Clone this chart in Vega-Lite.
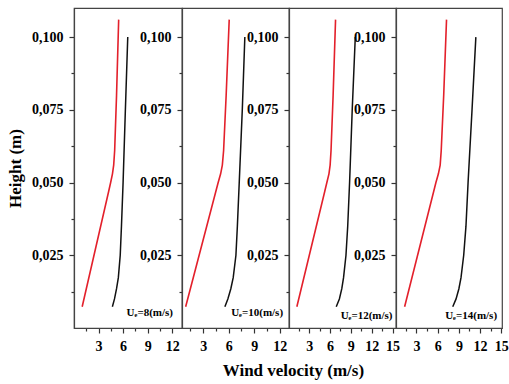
{
  "$schema": "https://vega.github.io/schema/vega-lite/v6.json",
  "padding": {"left": 5, "top": 7, "right": 0, "bottom": 2},
  "background": "white",
  "spacing": 0,
  "bounds": "flush",
  "title": {"text": "Wind velocity (m/s)", "orient": "bottom", "anchor": "middle", "frame": "bounds", "dx": 36, "font": "Liberation Serif", "fontSize": 17, "fontWeight": "bold", "color": "#000", "offset": 9},
  "datasets": {
    "lines": [
      {"p": 1, "s": "r", "v": 1.0, "h": 0.0073}, {"p": 1, "s": "r", "v": 4.24, "h": 0.047}, {"p": 1, "s": "r", "v": 4.48, "h": 0.050}, {"p": 1, "s": "r", "v": 4.7, "h": 0.053}, {"p": 1, "s": "r", "v": 4.85, "h": 0.056}, {"p": 1, "s": "r", "v": 4.97, "h": 0.061}, {"p": 1, "s": "r", "v": 5.2, "h": 0.080}, {"p": 1, "s": "r", "v": 5.46, "h": 0.106},
      {"p": 2, "s": "r", "v": 0.93, "h": 0.0073}, {"p": 2, "s": "r", "v": 4.49, "h": 0.047}, {"p": 2, "s": "r", "v": 4.76, "h": 0.050}, {"p": 2, "s": "r", "v": 5.05, "h": 0.053}, {"p": 2, "s": "r", "v": 5.25, "h": 0.056}, {"p": 2, "s": "r", "v": 5.4, "h": 0.061}, {"p": 2, "s": "r", "v": 5.7, "h": 0.080}, {"p": 2, "s": "r", "v": 6.06, "h": 0.106},
      {"p": 3, "s": "r", "v": 1.23, "h": 0.0073}, {"p": 3, "s": "r", "v": 5.25, "h": 0.047}, {"p": 3, "s": "r", "v": 5.55, "h": 0.050}, {"p": 3, "s": "r", "v": 5.85, "h": 0.053}, {"p": 3, "s": "r", "v": 6.02, "h": 0.056}, {"p": 3, "s": "r", "v": 6.15, "h": 0.061}, {"p": 3, "s": "r", "v": 6.45, "h": 0.080}, {"p": 3, "s": "r", "v": 6.8, "h": 0.106},
      {"p": 4, "s": "r", "v": 1.32, "h": 0.0073}, {"p": 4, "s": "r", "v": 5.44, "h": 0.047}, {"p": 4, "s": "r", "v": 5.75, "h": 0.050}, {"p": 4, "s": "r", "v": 6.1, "h": 0.053}, {"p": 4, "s": "r", "v": 6.35, "h": 0.056}, {"p": 4, "s": "r", "v": 6.5, "h": 0.061}, {"p": 4, "s": "r", "v": 6.85, "h": 0.080}, {"p": 4, "s": "r", "v": 7.25, "h": 0.106},
      {"p": 1, "s": "k", "v": 4.69, "h": 0.0073}, {"p": 1, "s": "k", "v": 4.95, "h": 0.010}, {"p": 1, "s": "k", "v": 5.2, "h": 0.0135}, {"p": 1, "s": "k", "v": 5.42, "h": 0.0173}, {"p": 1, "s": "k", "v": 5.65, "h": 0.025}, {"p": 1, "s": "k", "v": 5.8, "h": 0.035}, {"p": 1, "s": "k", "v": 6.0, "h": 0.050}, {"p": 1, "s": "k", "v": 6.28, "h": 0.075}, {"p": 1, "s": "k", "v": 6.57, "h": 0.100},
      {"p": 2, "s": "k", "v": 5.55, "h": 0.0073}, {"p": 2, "s": "k", "v": 5.9, "h": 0.010}, {"p": 2, "s": "k", "v": 6.25, "h": 0.0135}, {"p": 2, "s": "k", "v": 6.53, "h": 0.0173}, {"p": 2, "s": "k", "v": 6.85, "h": 0.025}, {"p": 2, "s": "k", "v": 7.02, "h": 0.035}, {"p": 2, "s": "k", "v": 7.24, "h": 0.050}, {"p": 2, "s": "k", "v": 7.6, "h": 0.075}, {"p": 2, "s": "k", "v": 7.9, "h": 0.100},
      {"p": 3, "s": "k", "v": 6.9, "h": 0.0073}, {"p": 3, "s": "k", "v": 7.35, "h": 0.010}, {"p": 3, "s": "k", "v": 7.7, "h": 0.0135}, {"p": 3, "s": "k", "v": 7.95, "h": 0.0173}, {"p": 3, "s": "k", "v": 8.3, "h": 0.025}, {"p": 3, "s": "k", "v": 8.55, "h": 0.035}, {"p": 3, "s": "k", "v": 8.82, "h": 0.050}, {"p": 3, "s": "k", "v": 9.2, "h": 0.075}, {"p": 3, "s": "k", "v": 9.64, "h": 0.100},
      {"p": 4, "s": "k", "v": 8.13, "h": 0.0073}, {"p": 4, "s": "k", "v": 8.6, "h": 0.010}, {"p": 4, "s": "k", "v": 9.0, "h": 0.0135}, {"p": 4, "s": "k", "v": 9.3, "h": 0.0173}, {"p": 4, "s": "k", "v": 9.68, "h": 0.025}, {"p": 4, "s": "k", "v": 10.0, "h": 0.035}, {"p": 4, "s": "k", "v": 10.3, "h": 0.050}, {"p": 4, "s": "k", "v": 10.86, "h": 0.075}, {"p": 4, "s": "k", "v": 11.4, "h": 0.100}
    ],
    "labels": [
      {"p": 1, "t": "Uₑ=8(m/s)", "v": 12.1, "h": 0.0052},
      {"p": 2, "t": "Uₑ=10(m/s)", "v": 12.4, "h": 0.0052},
      {"p": 3, "t": "Uₑ=12(m/s)", "v": 15.0, "h": 0.0042},
      {"p": 4, "t": "Uₑ=14(m/s)", "v": 14.4, "h": 0.0042}
    ]
  },
  "hconcat": [
    {
      "width": 108, "height": 320,
      "encoding": {
        "x": {"field": "v", "type": "quantitative", "scale": {"domain": [0, 13.2], "nice": false, "zero": false}, "axis": {"title": null, "values": [1.5, 3, 4.5, 6, 7.5, 9, 10.5, 12], "labelOverlap": false, "labelFlush": false, "ticks": true, "labelExpr": "datum.value % 3 == 0 ? format(datum.value, 'd') : ''", "tickSize": {"condition": {"test": "datum.value % 3 == 0", "value": 5}, "value": 3}}},
        "y": {"field": "h", "type": "quantitative", "scale": {"domain": [0, 0.11], "nice": false}, "axis": {"title": "Height (m)", "values": [0.0125, 0.025, 0.0375, 0.05, 0.0625, 0.075, 0.0875, 0.1], "labelOverlap": false, "labelExpr": "abs(datum.value*40 - round(datum.value*40)) < 0.001 ? replace(format(datum.value, '.3f'), '.', ',') : ''", "tickSize": {"condition": {"test": "abs(datum.value*40 - round(datum.value*40)) < 0.001", "value": 5}, "value": 3}}}
      },
      "layer": [
        {"data": {"name": "lines"}, "transform": [{"filter": "datum.p == 1 && datum.s == 'r'"}], "mark": {"type": "line", "color": "#e3202b", "strokeWidth": 1.6}, "encoding": {"order": {"field": "h", "type": "quantitative"}}},
        {"data": {"name": "lines"}, "transform": [{"filter": "datum.p == 1 && datum.s == 'k'"}], "mark": {"type": "line", "color": "#111", "strokeWidth": 1.5}, "encoding": {"order": {"field": "h", "type": "quantitative"}}},
        {"data": {"name": "labels"}, "transform": [{"filter": "datum.p == 1"}], "mark": {"type": "text", "align": "right", "baseline": "middle", "font": "Liberation Serif", "fontWeight": "bold", "fontSize": 11, "color": "#000"}, "encoding": {"text": {"field": "t"}}}
      ]
    },
    {
      "width": 107, "height": 320,
      "encoding": {
        "x": {"field": "v", "type": "quantitative", "scale": {"domain": [0.5, 13.1], "nice": false, "zero": false}, "axis": {"title": null, "values": [1.5, 3, 4.5, 6, 7.5, 9, 10.5, 12], "labelOverlap": false, "labelFlush": false, "ticks": true, "labelExpr": "datum.value % 3 == 0 ? format(datum.value, 'd') : ''", "tickSize": {"condition": {"test": "datum.value % 3 == 0", "value": 5}, "value": 3}}},
        "y": {"field": "h", "type": "quantitative", "scale": {"domain": [0, 0.11], "nice": false}, "axis": {"title": null, "values": [0.0125, 0.025, 0.0375, 0.05, 0.0625, 0.075, 0.0875, 0.1], "labelOverlap": false, "labelExpr": "abs(datum.value*40 - round(datum.value*40)) < 0.001 ? replace(format(datum.value, '.3f'), '.', ',') : ''", "tickSize": {"condition": {"test": "abs(datum.value*40 - round(datum.value*40)) < 0.001", "value": 5}, "value": 3}}}
      },
      "layer": [
        {"data": {"name": "lines"}, "transform": [{"filter": "datum.p == 2 && datum.s == 'r'"}], "mark": {"type": "line", "color": "#e3202b", "strokeWidth": 1.6}, "encoding": {"order": {"field": "h", "type": "quantitative"}}},
        {"data": {"name": "lines"}, "transform": [{"filter": "datum.p == 2 && datum.s == 'k'"}], "mark": {"type": "line", "color": "#111", "strokeWidth": 1.5}, "encoding": {"order": {"field": "h", "type": "quantitative"}}},
        {"data": {"name": "labels"}, "transform": [{"filter": "datum.p == 2"}], "mark": {"type": "text", "align": "right", "baseline": "middle", "font": "Liberation Serif", "fontWeight": "bold", "fontSize": 11, "color": "#000"}, "encoding": {"text": {"field": "t"}}}
      ]
    },
    {
      "width": 107, "height": 320,
      "encoding": {
        "x": {"field": "v", "type": "quantitative", "scale": {"domain": [0.1, 15.5], "nice": false, "zero": false}, "axis": {"title": null, "values": [1.5, 3, 4.5, 6, 7.5, 9, 10.5, 12, 13.5, 15], "labelOverlap": false, "labelFlush": false, "ticks": true, "labelExpr": "datum.value % 3 == 0 ? format(datum.value, 'd') : ''", "tickSize": {"condition": {"test": "datum.value % 3 == 0", "value": 5}, "value": 3}}},
        "y": {"field": "h", "type": "quantitative", "scale": {"domain": [0, 0.11], "nice": false}, "axis": {"title": null, "values": [0.0125, 0.025, 0.0375, 0.05, 0.0625, 0.075, 0.0875, 0.1], "labelOverlap": false, "labelExpr": "abs(datum.value*40 - round(datum.value*40)) < 0.001 ? replace(format(datum.value, '.3f'), '.', ',') : ''", "tickSize": {"condition": {"test": "abs(datum.value*40 - round(datum.value*40)) < 0.001", "value": 5}, "value": 3}}}
      },
      "layer": [
        {"data": {"name": "lines"}, "transform": [{"filter": "datum.p == 3 && datum.s == 'r'"}], "mark": {"type": "line", "color": "#e3202b", "strokeWidth": 1.6}, "encoding": {"order": {"field": "h", "type": "quantitative"}}},
        {"data": {"name": "lines"}, "transform": [{"filter": "datum.p == 3 && datum.s == 'k'"}], "mark": {"type": "line", "color": "#111", "strokeWidth": 1.5}, "encoding": {"order": {"field": "h", "type": "quantitative"}}},
        {"data": {"name": "labels"}, "transform": [{"filter": "datum.p == 3"}], "mark": {"type": "text", "align": "right", "baseline": "middle", "font": "Liberation Serif", "fontWeight": "bold", "fontSize": 11, "color": "#000"}, "encoding": {"text": {"field": "t"}}}
      ]
    },
    {
      "width": 106, "height": 320,
      "encoding": {
        "x": {"field": "v", "type": "quantitative", "scale": {"domain": [0.1, 15.1], "nice": false, "zero": false}, "axis": {"title": null, "values": [1.5, 3, 4.5, 6, 7.5, 9, 10.5, 12, 13.5, 15], "labelOverlap": false, "labelFlush": false, "ticks": true, "labelExpr": "datum.value % 3 == 0 ? format(datum.value, 'd') : ''", "tickSize": {"condition": {"test": "datum.value % 3 == 0", "value": 5}, "value": 3}}},
        "y": {"field": "h", "type": "quantitative", "scale": {"domain": [0, 0.11], "nice": false}, "axis": {"title": null, "values": [0.0125, 0.025, 0.0375, 0.05, 0.0625, 0.075, 0.0875, 0.1], "labelOverlap": false, "labelExpr": "abs(datum.value*40 - round(datum.value*40)) < 0.001 ? replace(format(datum.value, '.3f'), '.', ',') : ''", "tickSize": {"condition": {"test": "abs(datum.value*40 - round(datum.value*40)) < 0.001", "value": 5}, "value": 3}}}
      },
      "layer": [
        {"data": {"name": "lines"}, "transform": [{"filter": "datum.p == 4 && datum.s == 'r'"}], "mark": {"type": "line", "color": "#e3202b", "strokeWidth": 1.6}, "encoding": {"order": {"field": "h", "type": "quantitative"}}},
        {"data": {"name": "lines"}, "transform": [{"filter": "datum.p == 4 && datum.s == 'k'"}], "mark": {"type": "line", "color": "#111", "strokeWidth": 1.5}, "encoding": {"order": {"field": "h", "type": "quantitative"}}},
        {"data": {"name": "labels"}, "transform": [{"filter": "datum.p == 4"}], "mark": {"type": "text", "align": "right", "baseline": "middle", "font": "Liberation Serif", "fontWeight": "bold", "fontSize": 11, "color": "#000"}, "encoding": {"text": {"field": "t"}}}
      ]
    }
  ],
  "config": {
    "view": {"stroke": "#444", "strokeWidth": 1.2},
    "axis": {"grid": false, "labelFont": "Liberation Serif", "labelFontWeight": "bold", "labelFontSize": 14, "labelColor": "#000", "titleFont": "Liberation Serif", "titleFontWeight": "bold", "titleFontSize": 17, "titleColor": "#000", "domainColor": "#444", "domainWidth": 1.2, "tickColor": "#333", "tickWidth": 1.2, "labelPadding": 6, "titlePadding": 7}
  }
}
